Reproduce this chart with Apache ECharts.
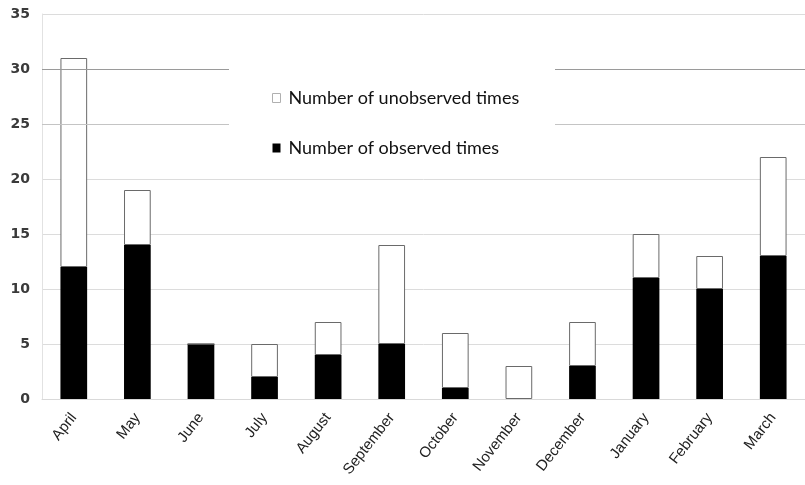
<!DOCTYPE html>
<html>
<head>
<meta charset="utf-8">
<script src="https://cdn.jsdelivr.net/npm/echarts@6/dist/echarts.min.js"></script>
<style>
  html, body { margin: 0; padding: 0; background: #fff; }
  #chart { width: 805px; height: 485px; }
</style>
</head>
<body>
<div id="chart"></div>
<script>
// Monthly counts, April through March
const months = ['April', 'May', 'June', 'July', 'August', 'September',
  'October', 'November', 'December', 'January', 'February', 'March'];
const observed = [12, 14, 5, 2, 4, 5, 1, 0, 3, 11, 10, 13];
const unobserved = [19, 5, 0, 3, 3, 9, 5, 3, 4, 4, 3, 9];
const yTicks = [0, 5, 10, 15, 20, 25, 30, 35];

const chart = echarts.init(document.getElementById('chart'), null, { renderer: 'canvas' });

chart.setOption({
  animation: false,
  backgroundColor: '#fff',
  grid: { left: 42, right: 0, top: 14, bottom: 86, containLabel: false },
  legend: {
    orient: 'vertical',
    left: 267,
    top: 83,
    itemWidth: 8,
    itemHeight: 9,
    itemGap: 30,
    z: 110,
    data: [
      { name: 'Number of unobserved times', icon: 'rect', itemStyle: { color: '#fff', borderColor: '#b0b0b0', borderWidth: 1 } },
      { name: 'Number of observed times', icon: 'rect' }
    ],
    textStyle: { fontFamily: 'Lato', fontSize: 18, lineHeight: 20, color: '#111', padding: [0, 0, 0, 3] }
  },
  // white panel behind the legend, hiding the grid lines there
  graphic: [{
    type: 'rect',
    z: 100,
    shape: { x: 229, y: 58, width: 326, height: 108 },
    style: { fill: '#fff' }
  }],
  xAxis: {
    type: 'category',
    data: months,
    axisLine: { show: true, lineStyle: { color: '#d9d9d9' } },
    axisTick: { show: false },
    axisLabel: {
      rotate: 52,
      margin: 16,
      interval: 0,
      fontFamily: 'Liberation Sans',
      fontSize: 15,
      color: '#222'
    }
  },
  yAxis: {
    type: 'value',
    min: yTicks[0],
    max: yTicks[yTicks.length - 1],
    interval: 5,
    axisLine: { show: true, lineStyle: { color: '#e2e2e2' } },
    axisTick: { show: false },
    axisLabel: {
      margin: 12,
      fontFamily: 'DejaVu Sans',
      fontWeight: 'bold',
      fontSize: 14,
      color: '#3a3a3a'
    },
    splitLine: { lineStyle: { color: '#dcdcdc', width: 1 } }
  },
  series: [
    {
      name: 'Number of observed times',
      type: 'bar',
      stack: 'total',
      data: observed,
      barWidth: '42%',
      itemStyle: { color: '#000', borderColor: '#000', borderWidth: 0 },
      markLine: {
        silent: true,
        symbol: 'none',
        label: { show: false },
        lineStyle: { type: 'solid', width: 1 },
        data: [
          { yAxis: 30, lineStyle: { color: '#9a9a9a' } },
          { yAxis: 25, lineStyle: { color: '#c4c4c4' } }
        ]
      }
    },
    {
      name: 'Number of unobserved times',
      type: 'bar',
      stack: 'total',
      data: unobserved,
      barWidth: '42%',
      itemStyle: { color: '#fff', borderColor: '#6a6a6a', borderWidth: 1 }
    }
  ]
});
</script>
</body>
</html>
